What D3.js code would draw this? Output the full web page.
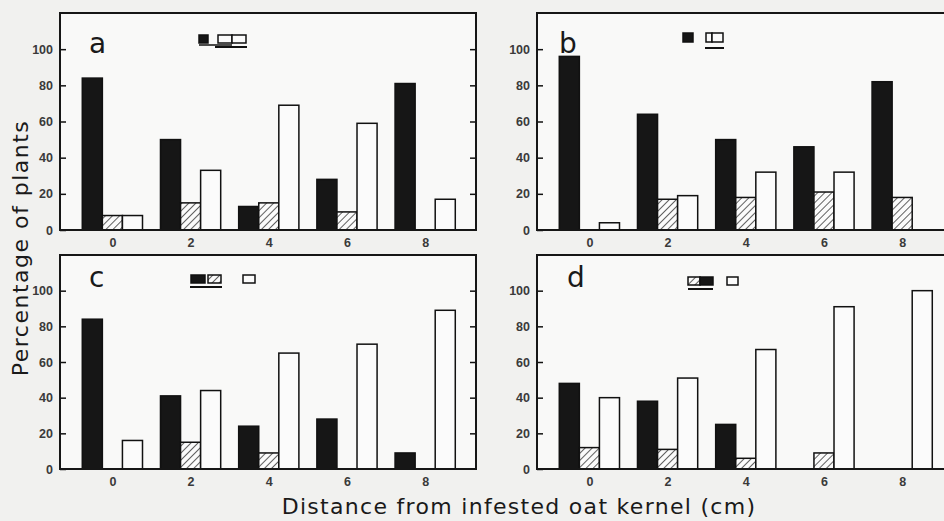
<!DOCTYPE html>
<html>
<head>
    <meta charset="UTF-8">
    <title>Plants by distance</title>
    <style>
        body { margin: 0; background-color: #f1f1ef; }
        svg { display: block; }
    </style>
</head>
<body>
    <svg></svg>
    <script src="https://d3js.org/d3.v7.min.js"></script>
    <script>
        let width = 944, height = 521;

        // distances (cm) and y ticks
        let distances = [0, 2, 4, 6, 8];
        let yTicks = [0, 20, 40, 60, 80, 100];

        // percentages: black, hatched, open bars
        let blackA = [84, 50, 13, 28, 81];
        let hatchA = [8, 15, 15, 10, 0];
        let openA = [8, 33, 69, 59, 17];

        let blackB = [96, 64, 50, 46, 82];
        let hatchB = [0, 17, 18, 21, 18];
        let openB = [4, 19, 32, 32, 0];

        let blackC = [84, 41, 24, 28, 9];
        let hatchC = [0, 15, 9, 0, 0];
        let openC = [16, 44, 65, 70, 89];

        let blackD = [48, 38, 25, 0, 0];
        let hatchD = [12, 11, 6, 9, 0];
        let openD = [40, 51, 67, 91, 100];

        let svg = d3.select("svg")
            .attr("width", width)
            .attr("height", height);

        // hatch pattern
        let defs = svg.append("defs");
        let pat = defs.append("pattern")
            .attr("id", "hatch")
            .attr("patternUnits", "userSpaceOnUse")
            .attr("width", 5).attr("height", 5)
            .attr("patternTransform", "rotate(45)");
        pat.append("rect").attr("width", 5).attr("height", 5).attr("fill", "#fbfbfb");
        pat.append("line")
            .attr("x1", 0).attr("y1", 0).attr("x2", 0).attr("y2", 5)
            .attr("stroke", "#3a3a3a").attr("stroke-width", 1.6);

        // layout of the four panels
        let panels = [
            { letter: "a", x0: 60, y0: 13, h: 217, black: blackA, hatch: hatchA, open: openA, lx: 29, ly: 40 },
            { letter: "b", x0: 537, y0: 13, h: 217, black: blackB, hatch: hatchB, open: openB, lx: 22, ly: 40 },
            { letter: "c", x0: 60, y0: 255, h: 214, black: blackC, hatch: hatchC, open: openC, lx: 29, ly: 32 },
            { letter: "d", x0: 537, y0: 255, h: 214, black: blackD, hatch: hatchD, open: openD, lx: 30, ly: 32 }
        ];
        let pw = 416;

        let sub = d3.scaleBand().domain([0, 1, 2]).range([-0.77, 0.77]);
        let fills = ["#161616", "url(#hatch)", "#fbfbfb"];

        panels.forEach(p => {
            let g = svg.append("g").attr("transform", "translate(" + p.x0 + "," + p.y0 + ")");

            let x = d3.scaleLinear().domain([-1.34, 9.3]).range([0, pw]);
            let y = d3.scaleLinear().domain([0, 120]).range([p.h, 0]);

            g.append("rect")
                .attr("width", pw).attr("height", p.h)
                .attr("fill", "#f9f9f8");

            // bars
            let series = [p.black, p.hatch, p.open];
            series.forEach((vals, si) => {
                g.append("g")
                    .selectAll("rect")
                    .data(distances.map((d, i) => ({ d: d, v: vals[i] })).filter(e => e.v > 0))
                    .enter()
                    .append("rect")
                    .attr("x", e => x(e.d + sub(si)))
                    .attr("width", x(sub.bandwidth()) - x(0))
                    .attr("y", e => y(e.v))
                    .attr("height", e => y(0) - y(e.v))
                    .attr("fill", fills[si])
                    .attr("stroke", "#111")
                    .attr("stroke-width", 1.5);
            });

            // left axis, inward ticks
            let left = g.append("g").call(d3.axisLeft(y).tickValues(yTicks).tickSize(-6).tickPadding(7));
            left.select(".domain").remove();
            left.selectAll("line").attr("stroke", "#111").attr("stroke-width", 1.5);
            left.selectAll("text")
                .attr("font-family", "Liberation Sans, Arial, sans-serif")
                .attr("font-size", 12.5).attr("font-weight", "bold").attr("fill", "#3a3a3a");

            // right axis ticks, inward, no labels
            let right = g.append("g").attr("transform", "translate(" + pw + ",0)")
                .call(d3.axisRight(y).tickValues(yTicks.slice(1)).tickSize(-6).tickFormat(""));
            right.select(".domain").remove();
            right.selectAll("line").attr("stroke", "#111").attr("stroke-width", 1.5);

            // bottom labels, no tick marks
            let bottom = g.append("g").attr("transform", "translate(0," + p.h + ")")
                .call(d3.axisBottom(x).tickValues(distances).tickSize(0).tickPadding(8));
            bottom.select(".domain").remove();
            bottom.selectAll("text")
                .attr("font-family", "Liberation Sans, Arial, sans-serif")
                .attr("font-size", 12.5).attr("font-weight", "bold").attr("fill", "#3a3a3a");

            // frame
            g.append("rect")
                .attr("width", pw).attr("height", p.h)
                .attr("fill", "none").attr("stroke", "#161616").attr("stroke-width", 2);

            // panel letter
            g.append("text")
                .attr("x", p.lx).attr("y", p.ly)
                .attr("font-family", "DejaVu Sans, sans-serif")
                .attr("font-size", 28)
                .attr("fill", "#1a1a1a")
                .text(p.letter);
        });

        // legend keys (symbols with grouping lines)
        function key(gx, gy, items, lines) {
            let g = svg.append("g").attr("transform", "translate(" + gx + "," + gy + ")");
            items.forEach(it => {
                g.append("rect")
                    .attr("x", it[0]).attr("y", 0).attr("width", it[1]).attr("height", it[2])
                    .attr("fill", fills[it[3]]).attr("stroke", "#111").attr("stroke-width", 1.5);
            });
            lines.forEach(l => {
                g.append("line")
                    .attr("x1", l[0]).attr("x2", l[1]).attr("y1", l[2]).attr("y2", l[2])
                    .attr("stroke", "#111").attr("stroke-width", l[3]);
            });
        }
        key(199, 35, [[0, 9, 8, 0], [19, 14, 8, 2], [33, 14, 8, 2]],
            [[0, 33, 10, 1.5], [16, 48, 12, 2]]);
        key(683, 33, [[0, 10, 9, 0], [23, 6, 9, 2], [29, 11, 9, 2]],
            [[22, 41, 15, 2]]);
        key(191, 275, [[0, 14, 8, 0], [17, 13, 8, 1], [52, 12, 8, 2]],
            [[-1, 31, 12, 2]]);
        key(688, 277, [[0, 12, 8, 1], [12, 13, 8, 0], [39, 11, 8, 2]],
            [[0, 25, 12, 2]]);

        // axis titles
        svg.append("text")
            .attr("transform", "translate(28,248) rotate(-90)")
            .attr("text-anchor", "middle")
            .attr("font-family", "DejaVu Sans, sans-serif")
            .attr("font-size", 22)
            .attr("letter-spacing", 1.5)
            .attr("fill", "#1a1a1a")
            .text("Percentage of plants");

        svg.append("text")
            .attr("x", 519).attr("y", 514)
            .attr("text-anchor", "middle")
            .attr("font-family", "DejaVu Sans, sans-serif")
            .attr("font-size", 22)
            .attr("letter-spacing", 1.3)
            .attr("fill", "#1a1a1a")
            .text("Distance from infested oat kernel (cm)");
    </script>
</body>
</html>
